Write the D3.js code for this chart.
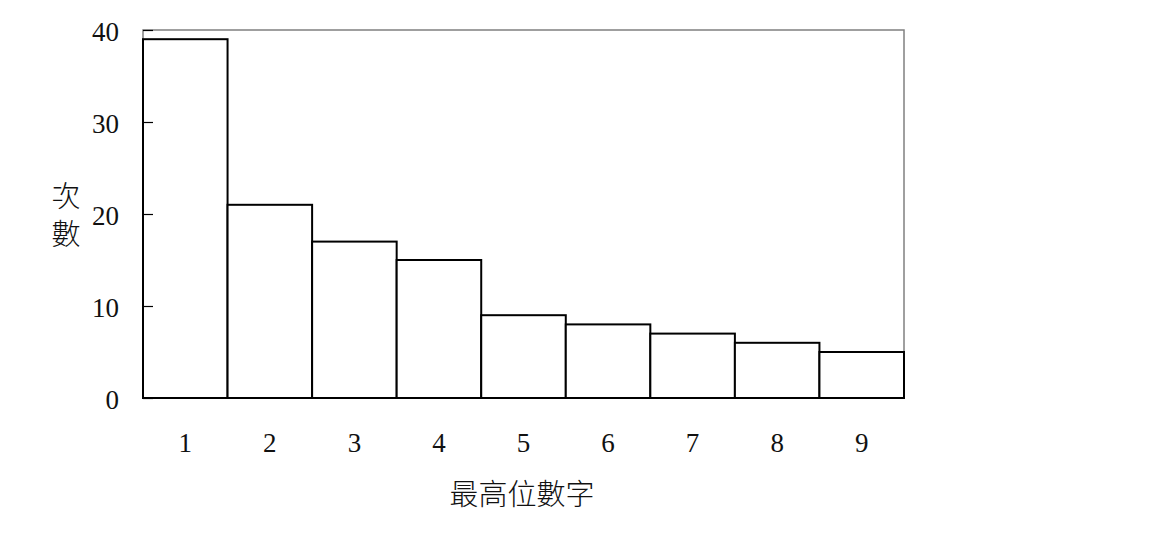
<!DOCTYPE html>
<html>
<head>
<meta charset="utf-8">
<script src="https://cdn.jsdelivr.net/npm/d3@7"></script>
<style>
  body { margin: 0; background: #fff; }
  text { font-family: "Liberation Serif", "DejaVu Serif", serif; }
  .cjk { font-family: "Noto Sans CJK TC", "Noto Sans CJK SC", sans-serif; font-weight: 300; }
</style>
</head>
<body>
<div id="chart"></div>
<script>
// leading digit counts
const digits = ["1", "2", "3", "4", "5", "6", "7", "8", "9"];
const counts = [39, 21, 17, 15, 9, 8, 7, 6, 5];
const yTicks = [0, 10, 20, 30, 40];

const margin = { top: 30, right: 263, bottom: 158, left: 143 },
      width = 1167 - margin.left - margin.right,
      height = 556 - margin.top - margin.bottom;

const svg = d3.select("#chart").append("svg")
  .attr("width", 1167)
  .attr("height", 556);

const g = svg.append("g")
  .attr("transform", `translate(${margin.left},${margin.top})`);

const x = d3.scaleBand().domain(digits).range([0, width]).padding(0);
const y = d3.scaleLinear().domain([0, 40]).range([height, 0]);

// plot frame (grey)
g.append("rect")
  .attr("x", 0).attr("y", 0)
  .attr("width", width).attr("height", height)
  .attr("fill", "none")
  .attr("stroke", "#808080")
  .attr("stroke-width", 1.5);

// bars
g.selectAll("rect.bar")
  .data(digits)
  .join("rect")
  .attr("class", "bar")
  .attr("x", d => x(d))
  .attr("y", (d, i) => y(counts[i]))
  .attr("width", x.bandwidth())
  .attr("height", (d, i) => height - y(counts[i]))
  .attr("fill", "#fff")
  .attr("stroke", "#000")
  .attr("stroke-width", 2);

// y axis: ticks pointing inward
const yAxis = g.append("g")
  .call(d3.axisRight(y).tickValues(yTicks).tickSize(10).tickFormat(""));
yAxis.select(".domain").remove();
yAxis.selectAll("line").attr("stroke", "#000").attr("stroke-width", 1.2);

g.selectAll("text.ylab")
  .data(yTicks)
  .join("text")
  .attr("class", "ylab")
  .attr("x", -24)
  .attr("y", d => y(d))
  .attr("dy", 11)
  .attr("text-anchor", "end")
  .attr("font-size", 27)
  .attr("fill", "#111")
  .text(d => d);

// x labels
g.selectAll("text.xlab")
  .data(digits)
  .join("text")
  .attr("class", "xlab")
  .attr("x", d => x(d) + x.bandwidth() / 2)
  .attr("y", height + 54)
  .attr("text-anchor", "middle")
  .attr("font-size", 27)
  .attr("fill", "#111")
  .text(d => d);

// bottom baseline in black
g.append("line")
  .attr("x1", 0).attr("x2", width)
  .attr("y1", height).attr("y2", height)
  .attr("stroke", "#000").attr("stroke-width", 2);

// axis titles
svg.append("text")
  .attr("class", "cjk")
  .attr("x", 522)
  .attr("y", 505)
  .attr("text-anchor", "middle")
  .attr("font-size", 29)
  .attr("fill", "#111")
  .text("最高位數字");

svg.append("text")
  .attr("class", "cjk")
  .attr("x", 66)
  .attr("y", 207)
  .attr("text-anchor", "middle")
  .attr("font-size", 29)
  .attr("fill", "#111")
  .text("次");
svg.append("text")
  .attr("class", "cjk")
  .attr("x", 66)
  .attr("y", 245)
  .attr("text-anchor", "middle")
  .attr("font-size", 29)
  .attr("fill", "#111")
  .text("數");
</script>
</body>
</html>
